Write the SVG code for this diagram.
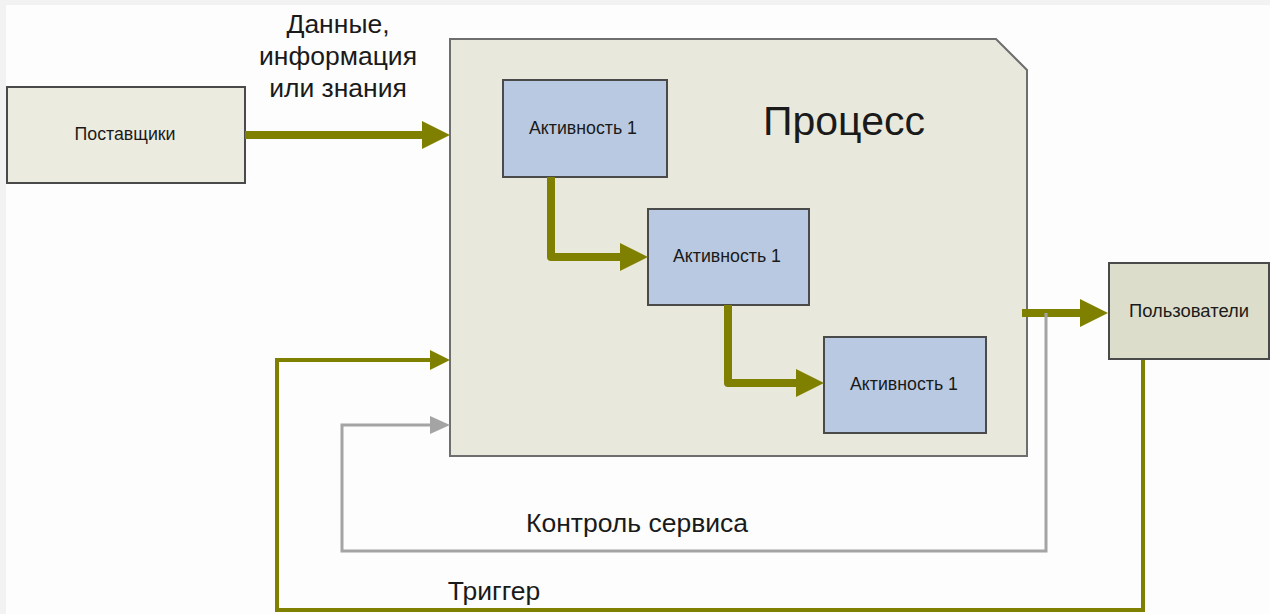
<svg xmlns="http://www.w3.org/2000/svg" width="1270" height="614" viewBox="0 0 1270 614">
  <style>
    .box { stroke: #4a4a4a; stroke-width: 2; }
    .sup { fill: #ecebe0; }
    .proc { fill: #e8e9dc; stroke: #6e6e6e; stroke-width: 2; }
    .usr { fill: #dcdecb; }
    .act { fill: #b8c9e1; }
    .lbl { font-family: "Liberation Sans", Arial, sans-serif; fill: #1a1a1a; text-anchor: middle; }
    .small { font-size: 17.5px; }
    .big { font-size: 26.5px; }
    .flow { fill: none; stroke: #808000; stroke-width: 8; stroke-linejoin: round; stroke-linecap: butt; }
    .trig { fill: none; stroke: #808000; stroke-width: 4; }
    .ctrl { fill: none; stroke: #a4a4a4; stroke-width: 3; }
  </style>
  <defs>
    <marker id="aBig" markerUnits="userSpaceOnUse" markerWidth="30" markerHeight="30" refX="18" refY="14" orient="auto">
      <path d="M0,0 L28,14 L0,28 z" fill="#808000"/>
    </marker>
    <marker id="aTrig" markerUnits="userSpaceOnUse" markerWidth="22" markerHeight="22" refX="12" refY="10" orient="auto">
      <path d="M0,0 L20,10 L0,20 z" fill="#808000"/>
    </marker>
    <marker id="aCtrl" markerUnits="userSpaceOnUse" markerWidth="22" markerHeight="22" refX="12" refY="9" orient="auto">
      <path d="M0,0 L20,9 L0,18 z" fill="#a4a4a4"/>
    </marker>
  </defs>

  <rect x="0" y="0" width="1270" height="614" fill="#f2f2f2"/>
  <rect x="6" y="5" width="1264" height="609" fill="#fcfdfc"/>

  <g id="process">
    <polygon class="proc" points="450,39 996,39 1027,70 1027,456 450,456"/>
    <text class="lbl" x="844" y="135" font-size="41">Процесс</text>
  </g>

  <g id="suppliers">
    <rect class="box sup" x="7" y="87" width="238" height="96"/>
    <text class="lbl small" x="125" y="140" textLength="101" lengthAdjust="spacingAndGlyphs">Поставщики</text>
  </g>

  <g id="users">
    <rect class="box usr" x="1109" y="263" width="160" height="96"/>
    <text class="lbl small" x="1189" y="317" textLength="120" lengthAdjust="spacingAndGlyphs">Пользователи</text>
  </g>

  <g id="activity1">
    <rect class="box act" x="503" y="80" width="164" height="97"/>
    <text class="lbl small" x="583" y="134" textLength="108" lengthAdjust="spacingAndGlyphs">Активность 1</text>
  </g>

  <g id="activity2">
    <rect class="box act" x="648" y="209" width="161" height="96"/>
    <text class="lbl small" x="727" y="262" textLength="108" lengthAdjust="spacingAndGlyphs">Активность 1</text>
  </g>

  <g id="activity3">
    <rect class="box act" x="824" y="337" width="162" height="96"/>
    <text class="lbl small" x="904" y="390" textLength="108" lengthAdjust="spacingAndGlyphs">Активность 1</text>
  </g>

  <g id="connectors">
    <path class="flow" d="M245,135 L440,135" marker-end="url(#aBig)"/>
    <path class="flow" d="M551,177 L551,257 L638,257" marker-end="url(#aBig)"/>
    <path class="flow" d="M728,305 L728,383 L814,383" marker-end="url(#aBig)"/>
    <path class="flow" d="M1022,313 L1098,313" marker-end="url(#aBig)"/>
    <path class="ctrl" d="M1046,313 L1046,551 L342,551 L342,425 L442,425" marker-end="url(#aCtrl)"/>
    <path class="trig" d="M1143,360 L1143,610 L277,610 L277,360 L442,360" marker-end="url(#aTrig)"/>
    <text class="lbl big" x="338" y="33">Данные,</text>
    <text class="lbl big" x="338" y="65">информация</text>
    <text class="lbl big" x="338" y="97">или знания</text>
    <text class="lbl big" x="637" y="532">Контроль сервиса</text>
    <text class="lbl big" x="494" y="600">Триггер</text>
  </g>
</svg>
